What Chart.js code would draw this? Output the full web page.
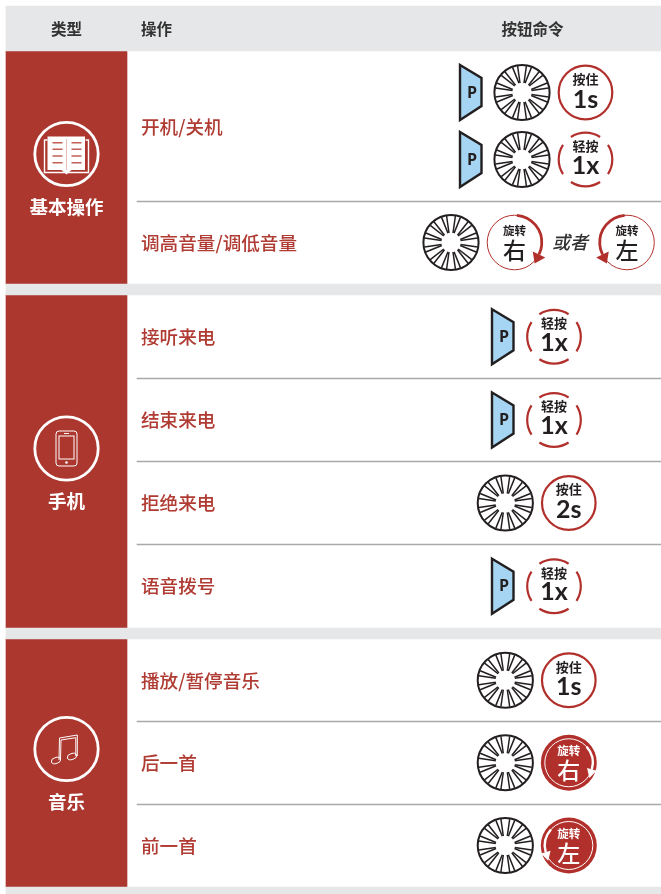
<!DOCTYPE html>
<html>
<head>
<meta charset="utf-8">
<style>
  html, body { margin: 0; padding: 0; background: #fff; }
  canvas { display: block; }
</style>
<script src="https://cdn.jsdelivr.net/npm/chart.js@4/dist/chart.umd.js"></script>
</head>
<body>
<canvas id="myChart" width="661" height="894"></canvas>
<script>
'use strict';

// table text
const headers = ['类型', '操作', '按钮命令'];
const categories = ['基本操作', '手机', '音乐'];
const operations = ['开机/关机', '调高音量/调低音量', '接听来电', '结束来电', '拒绝来电', '语音拨号', '播放/暂停音乐', '后一首', '前一首'];
// one list per row, row one has two lines. "上|下" is the text of a round button
const commands = [
    [['P', 'wheel', '按住|1s'], ['P', 'wheel', '轻按|1x']],
    [['wheel', '旋转|右', '或者', '旋转|左']],
    [['P', '轻按|1x']],
    [['P', '轻按|1x']],
    [['wheel', '按住|2s']],
    [['P', '轻按|1x']],
    [['wheel', '按住|1s']],
    [['wheel', '●旋转|右']],
    [['wheel', '●旋转|左']]
];

// layout of the table, in picture units
const sectionEdges = [[51, 284], [295, 628], [639, 887]];
const rowTops = [51, 201, 295, 378.5, 461.5, 544.5, 639, 721.5, 804];
const rowBottoms = [201, 284, 378.5, 461.5, 544.5, 628, 721.5, 804, 887];
const operationY = [127, 243, 337, 420, 503, 586, 681, 763, 846];
const separators = [201.5, 378.5, 461.5, 544.5, 721.5, 804.5];
const grayBands = [[6, 51], [284, 295], [628, 639], [887, 894]];
const commandStartX = [471.5, 451, 503.5, 503.5, 505.3, 503.5, 505.3, 505.3, 505.3];
const iconCenters = [154, 448.5, 749];
const categoryLabelY = [207, 501, 802];

const RED = '#ab372f';
const RING = '#b2302c';
const INK = '#231f20';
const CJK = '"Noto Sans CJK SC"';

function bandDataset(top, bottom, left, right, color) {
    return {
        type: 'bar',
        data: [{ x: [left, right], y: (top + bottom) / 2 }],
        backgroundColor: color,
        barThickness: bottom - top,
        grouped: false
    };
}

let datasets = [];
for (let i = 0; i < grayBands.length; i++) {
    datasets.push(bandDataset(grayBands[i][0], grayBands[i][1], 6, 661, '#e6e7e8'));
}
for (let i = 0; i < sectionEdges.length; i++) {
    datasets.push(bandDataset(sectionEdges[i][0], sectionEdges[i][1], 6, 127, RED));
}
for (let i = 0; i < separators.length; i++) {
    datasets.push(bandDataset(separators[i] - 0.5, separators[i] + 0.5, 137, 661, '#a7a9ac'));
}

function text(ctx, str, x, y, font, color, align) {
    ctx.font = font;
    ctx.fillStyle = color;
    ctx.textAlign = align || 'center';
    ctx.textBaseline = 'middle';
    ctx.fillText(str, x, y);
}

function rad(d) {
    return d * Math.PI / 180;
}

function drawButtonP(ctx, x, y) {
    ctx.beginPath();
    ctx.moveTo(x - 11.5, y - 27.5);
    ctx.lineTo(x + 10, y - 14.5);
    ctx.lineTo(x + 10, y + 13.5);
    ctx.lineTo(x - 11.5, y + 27.5);
    ctx.closePath();
    ctx.fillStyle = '#a5d5f3';
    ctx.fill();
    ctx.lineWidth = 2.4;
    ctx.strokeStyle = INK;
    ctx.lineJoin = 'miter';
    ctx.stroke();
    text(ctx, 'P', x + 0.5, y + 0.5, '700 16px "Open Sans"', INK);
}

function drawWheel(ctx, x, y) {
    ctx.strokeStyle = INK;
    ctx.lineJoin = 'round';
    for (let i = 0; i < 12; i++) {
        ctx.save();
        ctx.translate(x, y);
        ctx.rotate(rad(i * 30));
        ctx.beginPath();
        ctx.moveTo(-2, -9.5);
        ctx.lineTo(-4.4, -26.5);
        ctx.moveTo(4.4, -26.5);
        ctx.lineTo(2, -9.5);
        ctx.lineWidth = 1.5;
        ctx.stroke();
        ctx.restore();
    }
    ctx.beginPath();
    ctx.arc(x, y, 27.6, 0, Math.PI * 2);
    ctx.lineWidth = 2;
    ctx.stroke();
}

function drawHold(ctx, x, y, top, bottom) {
    ctx.beginPath();
    ctx.arc(x, y, 26.8, 0, Math.PI * 2);
    ctx.lineWidth = 2.2;
    ctx.strokeStyle = RING;
    ctx.stroke();
    text(ctx, top, x, y - 13.5, '700 13px ' + CJK, INK);
    text(ctx, bottom, x, y + 7, '700 25px Lato', INK);
}

function drawTap(ctx, x, y, top, bottom) {
    ctx.lineWidth = 2.2;
    ctx.strokeStyle = RING;
    for (let i = 0; i < 4; i++) {
        ctx.beginPath();
        ctx.arc(x, y, 26.8, rad(i * 90 - 33), rad(i * 90 + 33));
        ctx.stroke();
    }
    text(ctx, top, x, y - 13.5, '700 13px ' + CJK, INK);
    text(ctx, bottom, x, y + 6, '700 25px Lato', INK);
}

function drawTurn(ctx, x, y, top, bottom, filled) {
    let side = bottom === '左' ? -1 : 1;
    let color = filled ? '#fff' : RING;
    let r = filled ? 24 : 27.3;
    let start = filled ? -42 : -85;
    let end = filled ? 16 : 26;
    if (filled) {
        ctx.beginPath();
        ctx.arc(x, y, 28, 0, Math.PI * 2);
        ctx.fillStyle = RING;
        ctx.fill();
    }
    ctx.save();
    ctx.translate(x, y);
    ctx.scale(side, 1);
    ctx.strokeStyle = color;
    ctx.fillStyle = color;
    ctx.beginPath();
    ctx.arc(0, 0, r, 0, Math.PI * 2);
    ctx.lineWidth = 1;
    ctx.stroke();
    ctx.beginPath();
    ctx.arc(0, 0, r, rad(start), rad(end));
    ctx.lineWidth = filled ? 2.4 : 2.8;
    ctx.stroke();
    // arrow head at the end of the thick arc
    let px = r * Math.cos(rad(end));
    let py = r * Math.sin(rad(end));
    let tx = -Math.sin(rad(end));
    let ty = Math.cos(rad(end));
    let nx = Math.cos(rad(end));
    let ny = Math.sin(rad(end));
    let wing = filled ? 5 : 7;
    let len = filled ? 9 : 10;
    ctx.beginPath();
    ctx.moveTo(px + nx * wing, py + ny * wing);
    ctx.lineTo(px - nx * wing, py - ny * wing);
    ctx.lineTo(px + tx * len, py + ty * len);
    ctx.closePath();
    ctx.fill();
    ctx.restore();
    let ink = filled ? '#fff' : INK;
    text(ctx, top, x, y - 12, '700 11.5px ' + CJK, ink);
    text(ctx, bottom, x, y + 8, '500 23px ' + CJK, ink);
}

function drawOr(ctx, x, y, str) {
    text(ctx, str, x, y, 'italic 500 18px ' + CJK, '#333');
}

function drawBook(ctx, x, y) {
    ctx.fillStyle = '#fff';
    ctx.fillRect(x - 19, y - 17.5, 37.5, 33.5);
    ctx.beginPath();
    ctx.moveTo(x - 5, y + 16);
    ctx.lineTo(x, y + 20.5);
    ctx.lineTo(x + 5, y + 16);
    ctx.closePath();
    ctx.fill();
    ctx.strokeStyle = '#fff';
    ctx.lineWidth = 1.4;
    ctx.beginPath();
    ctx.moveTo(x - 19, y - 14);
    ctx.lineTo(x - 22, y - 14);
    ctx.lineTo(x - 22, y + 18.5);
    ctx.lineTo(x + 22, y + 18.5);
    ctx.lineTo(x + 22, y - 14);
    ctx.lineTo(x + 19, y - 14);
    ctx.stroke();
    ctx.strokeStyle = '#e5bdb9';
    ctx.lineWidth = 1;
    ctx.beginPath();
    ctx.moveTo(x, y - 15);
    ctx.lineTo(x, y + 16);
    ctx.stroke();
    ctx.strokeStyle = '#c25f57';
    ctx.lineWidth = 1.6;
    [-11.3, -4.7, 2, 8.7].forEach(function (dy) {
        ctx.beginPath();
        ctx.moveTo(x - 14, y + dy);
        ctx.lineTo(x - 4, y + dy);
        ctx.moveTo(x + 5, y + dy);
        ctx.lineTo(x + 15, y + dy);
        ctx.stroke();
    });
}

function drawPhone(ctx, x, y) {
    ctx.strokeStyle = '#fff';
    ctx.lineWidth = 1;
    ctx.beginPath();
    ctx.roundRect(x - 10.5, y - 17.5, 21, 35, 3);
    ctx.stroke();
    ctx.strokeRect(x - 7.5, y - 12.5, 15, 23);
    ctx.beginPath();
    ctx.moveTo(x - 2.5, y - 15);
    ctx.lineTo(x + 2.5, y - 15);
    ctx.stroke();
    ctx.beginPath();
    ctx.arc(x, y + 14, 1.3, 0, Math.PI * 2);
    ctx.fillStyle = '#fff';
    ctx.fill();
}

function drawMusic(ctx, x, y) {
    ctx.strokeStyle = '#fff';
    ctx.lineWidth = 1;
    ctx.beginPath();
    ctx.moveTo(x - 7.5, y + 11);
    ctx.lineTo(x - 7, y - 11);
    ctx.lineTo(x + 10.8, y - 14);
    ctx.lineTo(x + 10.8, y + 7);
    ctx.moveTo(x - 6, y + 11);
    ctx.lineTo(x - 5.5, y - 9);
    ctx.lineTo(x + 9.3, y - 11.3);
    ctx.lineTo(x + 9.3, y + 7);
    ctx.stroke();
    ctx.beginPath();
    ctx.ellipse(x - 10.5, y + 11.5, 4.8, 3, rad(-18), 0, Math.PI * 2);
    ctx.stroke();
    ctx.beginPath();
    ctx.ellipse(x + 5.5, y + 7.5, 4.8, 3, rad(-18), 0, Math.PI * 2);
    ctx.stroke();
}

const iconDrawers = [drawBook, drawPhone, drawMusic];
const tokenStep = { P: 50.5, wheel: 63.5, turn: 55.5, or: 57 };

// draws one line of a command row, steps x along the tokens
function drawCommandLine(ctx, tokens, startX, y, xScale) {
    let value = startX;
    for (let i = 0; i < tokens.length; i++) {
        let token = tokens[i];
        let x = xScale.getPixelForValue(value);
        if (token === 'P') {
            drawButtonP(ctx, x, y);
            value += tokenStep.P;
        } else if (token === 'wheel') {
            drawWheel(ctx, x, y);
            value += tokenStep.wheel;
        } else if (token === '或者') {
            drawOr(ctx, x, y, token);
            value += tokenStep.or;
        } else {
            let filled = token.charAt(0) === '●';
            let parts = token.replace('●', '').split('|');
            if (parts[0] === '按住') {
                drawHold(ctx, x, y, parts[0], parts[1]);
            } else if (parts[0] === '轻按') {
                drawTap(ctx, x, y, parts[0], parts[1]);
            } else {
                drawTurn(ctx, x, y, parts[0], parts[1], filled);
            }
            value += tokenStep.turn;
        }
    }
}

const tablePlugin = {
    id: 'tablePlugin',
    afterDatasetsDraw(chart) {
        const ctx = chart.ctx;
        const xs = chart.scales.x;
        const ys = chart.scales.y;
        ctx.save();

        text(ctx, headers[0], xs.getPixelForValue(66.5), ys.getPixelForValue(29.5), '700 15.5px ' + CJK, '#333');
        text(ctx, headers[1], xs.getPixelForValue(141), ys.getPixelForValue(29.5), '700 15.5px ' + CJK, '#333', 'left');
        text(ctx, headers[2], xs.getPixelForValue(532.5), ys.getPixelForValue(29.5), '700 15.5px ' + CJK, '#333');

        for (let i = 0; i < categories.length; i++) {
            let cx = xs.getPixelForValue(66.5);
            let cy = ys.getPixelForValue(iconCenters[i]);
            ctx.beginPath();
            ctx.arc(cx, cy, 31.7, 0, Math.PI * 2);
            ctx.lineWidth = 2.8;
            ctx.strokeStyle = '#fff';
            ctx.stroke();
            iconDrawers[i](ctx, cx, cy);
            text(ctx, categories[i], cx, ys.getPixelForValue(categoryLabelY[i]), '700 18.5px ' + CJK, '#fff');
        }

        for (let i = 0; i < operations.length; i++) {
            let mid = (rowTops[i] + rowBottoms[i]) / 2;
            text(ctx, operations[i], xs.getPixelForValue(141), ys.getPixelForValue(operationY[i]), '500 18.6px ' + CJK, '#b03b33', 'left');
            let lines = commands[i];
            for (let j = 0; j < lines.length; j++) {
                let offset = lines.length > 1 ? (j === 0 ? -33.5 : 33.5) : 0;
                drawCommandLine(ctx, lines[j], commandStartX[i], ys.getPixelForValue(mid + offset), xs);
            }
        }
        ctx.restore();
    }
};

new Chart(document.getElementById('myChart').getContext('2d'), {
    type: 'bar',
    data: { datasets: datasets },
    plugins: [tablePlugin],
    options: {
        indexAxis: 'y',
        responsive: false,
        animation: false,
        layout: { padding: 0 },
        plugins: { legend: { display: false }, tooltip: { enabled: false } },
        scales: {
            x: { type: 'linear', min: 0, max: 661, display: false, offset: false },
            y: { type: 'linear', min: 0, max: 894, reverse: true, display: false, offset: false }
        }
    }
});
</script>
</body>
</html>
